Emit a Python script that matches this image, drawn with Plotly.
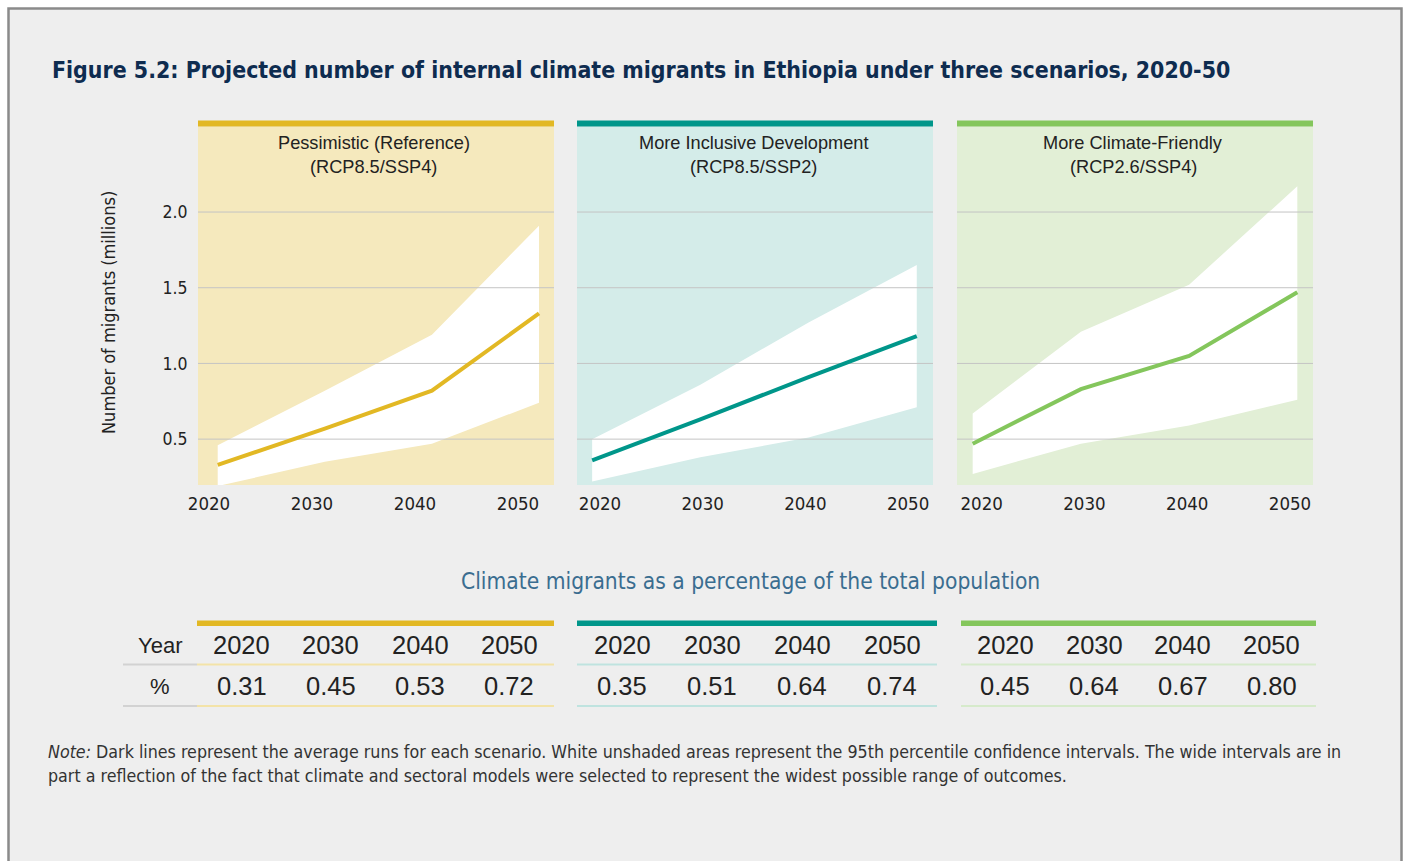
import plotly.graph_objects as go

# ---------------- data ----------------
years = [2020, 2030, 2040, 2050]

scenario_titles = ["Pessimistic (Reference)", "More Inclusive Development", "More Climate-Friendly"]
scenario_subtitles = ["(RCP8.5/SSP4)", "(RCP8.5/SSP2)", "(RCP2.6/SSP4)"]

pess_mean = [0.33, 0.57, 0.82, 1.33]
pess_low = [0.19, 0.35, 0.47, 0.74]
pess_high = [0.46, 0.82, 1.19, 1.91]

incl_mean = [0.36, 0.63, 0.91, 1.18]
incl_low = [0.22, 0.38, 0.51, 0.71]
incl_high = [0.50, 0.86, 1.27, 1.65]

clim_mean = [0.47, 0.83, 1.05, 1.47]
clim_low = [0.27, 0.47, 0.59, 0.76]
clim_high = [0.67, 1.21, 1.52, 2.17]

y_ticks = [0.5, 1.0, 1.5, 2.0]
y_ticktext = ["0.5", "1.0", "1.5", "2.0"]

pct_pess = ["0.31", "0.45", "0.53", "0.72"]
pct_incl = ["0.35", "0.51", "0.64", "0.74"]
pct_clim = ["0.45", "0.64", "0.67", "0.80"]

title_text = "Figure 5.2: Projected number of internal climate migrants in Ethiopia under three scenarios, 2020-50"
y_title = "Number of migrants (millions)"
table_title = "Climate migrants as a percentage of the total population"
note_line1 = ("<i>Note:</i> Dark lines represent the average runs for each scenario. White unshaded areas represent "
              "the 95th percentile confidence intervals. The wide intervals are in")
note_line2 = ("part a reflection of the fact that climate and sectoral models were selected to represent the widest "
              "possible range of outcomes.")

# ---------------- style ----------------
W, H = 1404, 861
BG = "#eeeeee"
line_colors = ["#e2b824", "#00968a", "#84c65c"]
panel_bgs = ["#f5e9bd", "#d4ece9", "#e2efd6"]
row_line_colors = ["#f3e3a8", "#bfe3df", "#d6eacb"]
NARROW = "Liberation Sans Narrow, DejaVu Sans Condensed, sans-serif"
SANS = "Liberation Sans, Arial, sans-serif"
TXT = "#222222"

def fx(p):
    return p / W

def fy(p):
    return 1 - p / H

panel_px = [(198, 554), (577, 933), (957, 1313)]
x_ranges = [[2018.16, 2051.4], [2018.6, 2051.5], [2018.55, 2051.45]]
# ranges of the (label-only) axes that carry the year labels under each panel
label_ranges = [[2018.93, 2053.5], [2017.76, 2052.43], [2017.6, 2052.24]]
plot_top, plot_bot = 126.5, 485
y_range = [0.197, 2.565]

means = [pess_mean, incl_mean, clim_mean]
lows = [pess_low, incl_low, clim_low]
highs = [pess_high, incl_high, clim_high]
pcts = [pct_pess, pct_incl, pct_clim]

fig = go.Figure()
shapes = []
annotations = []

# page background inside the frame
shapes.append(dict(type="rect", xref="paper", yref="paper", x0=fx(8.5), x1=fx(1401.5), y0=fy(880), y1=fy(8.5),
                   fillcolor=BG, line=dict(color="#8a8a8a", width=2.5), layer="below"))

for i in range(3):
    xa = "x" if i == 0 else f"x{i+1}"
    ya = "y" if i == 0 else f"y{i+1}"
    # band
    fig.add_trace(go.Scatter(x=years, y=lows[i], mode="lines", line=dict(width=0, color="white"),
                             xaxis=xa, yaxis=ya, showlegend=False, hoverinfo="skip"))
    fig.add_trace(go.Scatter(x=years, y=highs[i], mode="lines", line=dict(width=0, color="white"),
                             fill="tonexty", fillcolor="white",
                             xaxis=xa, yaxis=ya, showlegend=False, hoverinfo="skip"))
    # gridlines (above the white band)
    for t in y_ticks:
        fig.add_trace(go.Scatter(x=x_ranges[i], y=[t, t], mode="lines",
                                 line=dict(width=1, color="#c4c4c4"),
                                 xaxis=xa, yaxis=ya, showlegend=False, hoverinfo="skip"))
    # mean line
    fig.add_trace(go.Scatter(x=years, y=means[i], mode="lines",
                             line=dict(width=4, color=line_colors[i]),
                             xaxis=xa, yaxis=ya, showlegend=False))
    # invisible trace that keeps the year-label axis drawn
    fig.add_trace(go.Scatter(x=years, y=means[i], mode="markers", marker=dict(opacity=0, size=1),
                             xaxis=f"x{i+4}", yaxis=ya, showlegend=False, hoverinfo="skip"))
    # panel background
    shapes.append(dict(type="rect", xref=f"{xa} domain", yref=f"{ya} domain", x0=0, x1=1, y0=0, y1=1,
                       fillcolor=panel_bgs[i], line=dict(width=0), layer="below"))
    # top colored bar
    x0p, x1p = panel_px[i]
    shapes.append(dict(type="rect", xref="paper", yref="paper", x0=fx(x0p), x1=fx(x1p),
                       y0=fy(126.5), y1=fy(120.5), fillcolor=line_colors[i], line=dict(width=0)))
    cx = (x0p + x1p) / 2
    annotations.append(dict(x=fx(cx - 2), y=fy(143), xref="paper", yref="paper", text=scenario_titles[i],
                            showarrow=False, xanchor="center", yanchor="middle",
                            font=dict(family=SANS, size=18.2, color=TXT)))
    annotations.append(dict(x=fx(cx - 2), y=fy(167), xref="paper", yref="paper", text=scenario_subtitles[i],
                            showarrow=False, xanchor="center", yanchor="middle",
                            font=dict(family=SANS, size=18.2, color=TXT)))

layout_axes = {}
for i in range(3):
    x0p, x1p = panel_px[i]
    xname = "xaxis" if i == 0 else f"xaxis{i+1}"
    yname = "yaxis" if i == 0 else f"yaxis{i+1}"
    yref_name = "y" if i == 0 else f"y{i+1}"
    layout_axes[xname] = dict(domain=[fx(x0p), fx(x1p)], range=x_ranges[i], showticklabels=False,
                              showgrid=False, zeroline=False, showline=False, ticks="",
                              automargin=False, anchor=yref_name, fixedrange=True)
    # label axis for the year ticks under the panel
    layout_axes[f"xaxis{i+4}"] = dict(domain=[fx(x0p), fx(x1p)], range=label_ranges[i], tickvals=years,
                                      ticktext=[str(y) for y in years], showgrid=False, zeroline=False,
                                      showline=False, ticks="outside", ticklen=2, tickcolor="rgba(0,0,0,0)",
                                      automargin=False, overlaying="x" if i == 0 else f"x{i+1}",
                                      anchor=yref_name, side="bottom",
                                      tickfont=dict(family=NARROW, size=18.5, color=TXT), fixedrange=True)
    layout_axes[yname] = dict(domain=[fy(plot_bot), fy(plot_top)], range=y_range, tickvals=y_ticks,
                              ticktext=y_ticktext, showgrid=False, zeroline=False, showline=False,
                              showticklabels=(i == 0), ticks="outside" if i == 0 else "", ticklen=6,
                              tickcolor="rgba(0,0,0,0)", automargin=False,
                              tickfont=dict(family=NARROW, size=17.5, color=TXT),
                              anchor="x" if i == 0 else f"x{i+1}", fixedrange=True)

# title
annotations.append(dict(x=fx(50), y=fy(70), xref="paper", yref="paper", text=f"<b>{title_text}</b>",
                        showarrow=False, xanchor="left", yanchor="middle",
                        font=dict(family=NARROW, size=22.9, color="#0e2c50")))
# y title
annotations.append(dict(x=fx(108), y=fy(313), xref="paper", yref="paper", text=y_title, textangle=-90,
                        showarrow=False, xanchor="center", yanchor="middle",
                        font=dict(family=NARROW, size=18, color=TXT)))
# table title
annotations.append(dict(x=fx(751), y=fy(581), xref="paper", yref="paper", text=table_title,
                        showarrow=False, xanchor="center", yanchor="middle",
                        font=dict(family=NARROW, size=22.6, color="#3a6d90")))

# table
table_sections = [(197, 554), (577, 937), (961, 1316)]
row1_y, row2_y = 645, 686
line1_y, line2_y = 664.5, 706
annotations.append(dict(x=fx(160), y=fy(row1_y), xref="paper", yref="paper", text="Year", showarrow=False,
                        xanchor="center", yanchor="middle", font=dict(family=SANS, size=22, color=TXT)))
annotations.append(dict(x=fx(160), y=fy(row2_y), xref="paper", yref="paper", text="%", showarrow=False,
                        xanchor="center", yanchor="middle", font=dict(family=SANS, size=22, color=TXT)))
for ly in (line1_y, line2_y):
    shapes.append(dict(type="line", xref="paper", yref="paper", x0=fx(123), x1=fx(197), y0=fy(ly), y1=fy(ly),
                       line=dict(color="#d2d2d2", width=2)))
for i, (s0, s1) in enumerate(table_sections):
    shapes.append(dict(type="rect", xref="paper", yref="paper", x0=fx(s0), x1=fx(s1), y0=fy(626), y1=fy(620.5),
                       fillcolor=line_colors[i], line=dict(width=0)))
    for ly in (line1_y, line2_y):
        shapes.append(dict(type="line", xref="paper", yref="paper", x0=fx(s0), x1=fx(s1), y0=fy(ly), y1=fy(ly),
                           line=dict(color=row_line_colors[i], width=2)))
    cw = (s1 - s0) / 4
    for j in range(4):
        cx = s0 + cw * (j + 0.5)
        annotations.append(dict(x=fx(cx), y=fy(row1_y), xref="paper", yref="paper", text=str(years[j]),
                                showarrow=False, xanchor="center", yanchor="middle",
                                font=dict(family=SANS, size=25.5, color=TXT)))
        annotations.append(dict(x=fx(cx), y=fy(row2_y), xref="paper", yref="paper", text=pcts[i][j],
                                showarrow=False, xanchor="center", yanchor="middle",
                                font=dict(family=SANS, size=25.5, color=TXT)))

# note
annotations.append(dict(x=fx(46), y=fy(752), xref="paper", yref="paper", text=note_line1, showarrow=False,
                        xanchor="left", yanchor="middle", font=dict(family=NARROW, size=17.7, color="#333333")))
annotations.append(dict(x=fx(46), y=fy(776), xref="paper", yref="paper", text=note_line2, showarrow=False,
                        xanchor="left", yanchor="middle", font=dict(family=NARROW, size=17.7, color="#333333")))

fig.update_layout(
    width=W, height=H, margin=dict(l=0, r=0, t=0, b=0, autoexpand=False),
    paper_bgcolor="white", plot_bgcolor="rgba(0,0,0,0)",
    shapes=shapes, annotations=annotations, showlegend=False,
    **layout_axes,
)

fig.write_html("out.html", config={"displayModeBar": False})
